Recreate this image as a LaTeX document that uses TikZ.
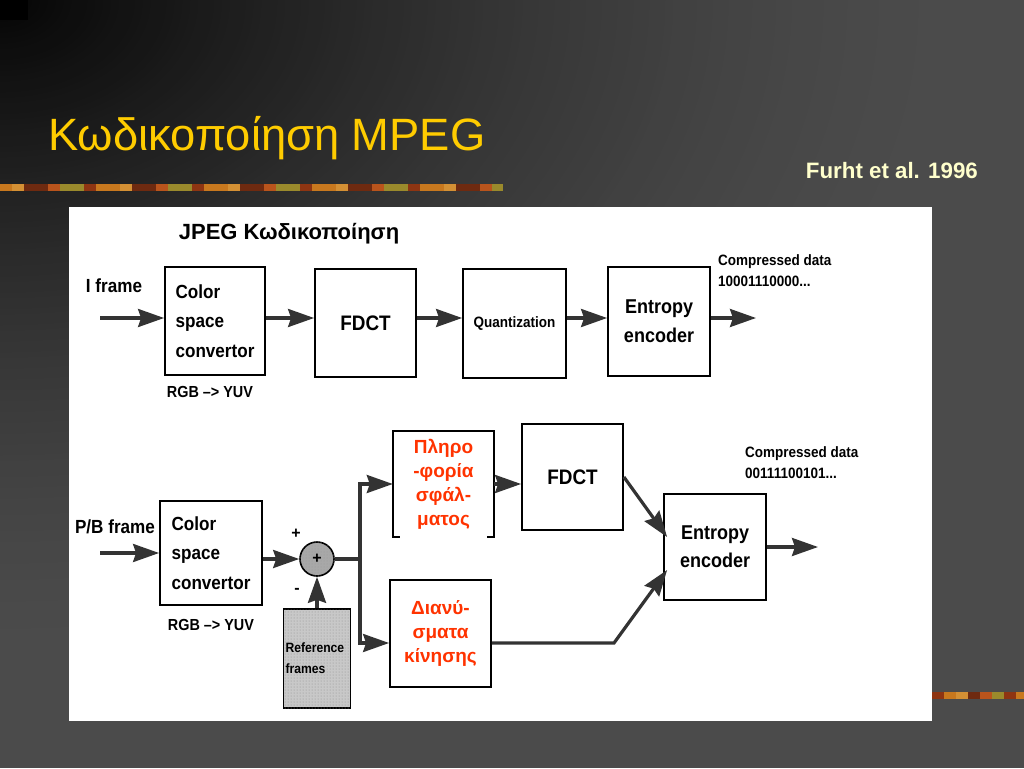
\documentclass[tikz,border=0pt]{standalone}
\usepackage{fontspec}
\setmainfont{Liberation Sans}
\newfontfamily\narrowfont[FakeStretch=0.9]{Liberation Sans}
\usetikzlibrary{arrows.meta,calc,patterns}
\definecolor{bgcA}{HTML}{050505}
\definecolor{bgcD}{HTML}{4B4B4B}
\definecolor{titlegold}{HTML}{FFCC00}
\definecolor{cream}{HTML}{FFFFCC}
\definecolor{redtxt}{HTML}{FF3300}
\definecolor{arrgray}{HTML}{333333}
\definecolor{refgray}{HTML}{C8C8C8}
\definecolor{sumgray}{HTML}{A8A8A8}
\definecolor{dA}{HTML}{C8781E}
\definecolor{dB}{HTML}{8E3512}
\definecolor{dC}{HTML}{9A8A2C}
\definecolor{dD}{HTML}{B9541C}
\definecolor{dE}{HTML}{6E2A10}
\definecolor{dF}{HTML}{D49034}
\newcommand\dlbl{\narrowfont\bfseries}
\tikzset{
  box/.style={draw=black, line width=1.8pt, fill=white, inner sep=0pt, align=center},
  conn/.style={draw=arrgray, line width=3.2pt},
  arr/.style={conn, -{Stealth[length=26pt,width=18pt,inset=3pt]}},
  redlbl/.style={font=\bfseries\fontsize{19}{24}\selectfont, text=redtxt, align=center}
}
\begin{document}
\begin{tikzpicture}[x=1pt,y=-1pt]
\useasboundingbox (0,0) rectangle (1024,768);
% background: concentric ellipses from the top-left corner
\begin{scope}
\clip (0,0) rectangle (1024,768);
\fill[bgcD] (0,0) rectangle (1024,768);
\foreach \i in {120,...,1} {
  \pgfmathsetmacro\tt{\i/120}
  \pgfmathsetmacro\pp{100*(1-(1-\tt)^1.5)}
  \colorlet{bgx}{bgcD!\pp!bgcA}
  \fill[bgx] (0,0) ellipse [x radius={950*\tt}, y radius={650*\tt}];
}
\end{scope}
\fill[black] (0,0) rectangle (28,20);
% decorative bars
\foreach \i in {0,...,41} {
  \pgfmathtruncatemacro\k{mod(\i*5+int(\i/3),6)}
  \ifcase\k \colorlet{barc}{dA}\or\colorlet{barc}{dB}\or\colorlet{barc}{dC}\or\colorlet{barc}{dD}\or\colorlet{barc}{dE}\else\colorlet{barc}{dF}\fi
  \fill[barc] ({\i*12},184) rectangle ({min(\i*12+12,503)},191);
}
\foreach \i in {0,...,7} {
  \pgfmathtruncatemacro\k{mod(\i*5+1,6)}
  \ifcase\k \colorlet{barc}{dA}\or\colorlet{barc}{dB}\or\colorlet{barc}{dC}\or\colorlet{barc}{dD}\or\colorlet{barc}{dE}\else\colorlet{barc}{dF}\fi
  \fill[barc] ({932+\i*12},692) rectangle ({min(944+\i*12,1024)},699);
}
% titles
\node[anchor=base west, text=titlegold, font=\fontsize{45.3}{50}\selectfont, inner sep=0pt] (title) at (48,150) {Κωδικοποίηση MPEG};
\node[anchor=base east, text=cream, font=\bfseries\fontsize{22.3}{25}\selectfont, inner sep=0pt] (cite) at (978,178) {Furht et al. 1996};
% white panel
\fill[white] (69,207) rectangle (932,721);
\node[font=\bfseries\fontsize{22}{25}\selectfont, inner sep=0pt] (jpeg) at (289,234) {JPEG Κωδικοποίηση};

% ---------- top row ----------
\coordinate (r1) at (0,318);
\coordinate (in1) at (100,318);
\coordinate (out1) at (756,318);
\node[box, minimum width=100pt, minimum height=108pt, align=left, font=\dlbl\fontsize{19}{29.5}\selectfont] (csc1) at (215,321) {Color\\space\\convertor};
\node[box, minimum width=101pt, minimum height=108pt, font=\dlbl\fontsize{21}{24}\selectfont] (fdct1) at (365.5,323) {FDCT};
\node[box, minimum width=103pt, minimum height=109pt, font=\dlbl\fontsize{15}{18}\selectfont] (quant) at (514.5,323.5) {Quantization};
\node[box, minimum width=102pt, minimum height=109pt, font=\dlbl\fontsize{20}{29}\selectfont] (ent1) at (659,321.5) {Entropy\\encoder};
\node[font=\dlbl\fontsize{19}{22}\selectfont, inner sep=0pt] (iframe) at (114,286) {I frame};
\node[font=\dlbl\fontsize{16}{19}\selectfont, inner sep=0pt] (rgb1) at (210,392) {RGB –> YUV};
\node[font=\dlbl\fontsize{15}{21}\selectfont, align=left, anchor=north west, inner sep=0pt] (cd1) at (718,254) {Compressed data\\10001110000...};
\draw[arr] (in1) -- (csc1.west |- r1);
\draw[arr] (csc1.east |- r1) -- (fdct1.west |- r1);
\draw[arr] (fdct1.east |- r1) -- (quant.west |- r1);
\draw[arr] (quant.east |- r1) -- (ent1.west |- r1);
\draw[arr] (ent1.east |- r1) -- (out1);

% ---------- bottom row ----------
\coordinate (in2) at (100,553);
\coordinate (J) at (360,559);
\coordinate (m643) at (0,643);
\coordinate (kink) at (614,643);
\coordinate (out2) at (818,547);
\node[box, minimum width=102pt, minimum height=104pt, align=left, font=\dlbl\fontsize{19}{29.5}\selectfont] (csc2) at (211,553) {Color\\space\\convertor};
\node[font=\dlbl\fontsize{19}{22}\selectfont, inner sep=0pt] (pbframe) at (115,527) {P/B frame};
\node[font=\dlbl\fontsize{16}{19}\selectfont, inner sep=0pt] (rgb2) at (211,625) {RGB –> YUV};
\node[circle, draw=black, line width=1.6pt, fill=sumgray, postaction={pattern=dots, pattern color=black!40}, minimum size=34pt, inner sep=0pt, font=\bfseries\fontsize{16}{16}\selectfont] (sum) at (317,559) {+};
\node[font=\bfseries\fontsize{16}{16}\selectfont, inner sep=0pt] (plus) at (296,534) {+};
\node[font=\bfseries\fontsize{16}{16}\selectfont, inner sep=0pt] (minus) at (297,591) {-};
\node[draw=black, line width=1.6pt, fill=refgray, postaction={pattern=dots, pattern color=black!45}, minimum width=67pt, minimum height=99pt, inner sep=0pt, text width=63pt, align=left, font=\dlbl\fontsize{13.5}{21}\selectfont] (ref) at (317,658.5) {Reference\\frames};
\node[minimum width=101pt, minimum height=106pt, inner sep=0pt, fill=white, redlbl] (err) at (443.5,484) {Πληρο\\-φορία\\σφάλ-\\ματος};
\draw[line width=1.8pt] ([xshift=7pt]err.south west) -- (err.south west) -- (err.north west) -- (err.north east) -- (err.south east) -- ([xshift=-7pt]err.south east);
\node[box, minimum width=101pt, minimum height=107pt, redlbl] (mot) at (440.5,633.5) {Διανύ-\\σματα\\κίνησης};
\node[box, minimum width=101pt, minimum height=106pt, font=\dlbl\fontsize{21}{24}\selectfont] (fdct2) at (572.5,477) {FDCT};
\node[box, minimum width=102pt, minimum height=106pt, font=\dlbl\fontsize{20}{28}\selectfont] (ent2) at (715,547) {Entropy\\encoder};
\node[font=\dlbl\fontsize{15}{21}\selectfont, align=left, anchor=north west, inner sep=0pt] (cd2) at (745,446) {Compressed data\\00111100101...};

\draw[arr] (in2) -- (csc2.west |- in2);
\draw[arr] (csc2.east |- sum.west) -- (sum.west);
\draw[arr] (ref.north) -- (sum.south);
\draw[conn] (sum.east) -- (J);
\draw[arr] (J) |- (err.west);
\draw[arr] (J) |- (mot.west |- m643);
\draw[arr] (err.east) -- (fdct2.west |- err.east);
\draw[arr] (fdct2.east) -- ($(ent2.west)+(4,-10)$);
\draw[arr] (mot.east |- m643) -- (kink) -- ($(ent2.west)+(4,23)$);
\draw[arr] (ent2.east) -- (out2);
\end{tikzpicture}
\end{document}
